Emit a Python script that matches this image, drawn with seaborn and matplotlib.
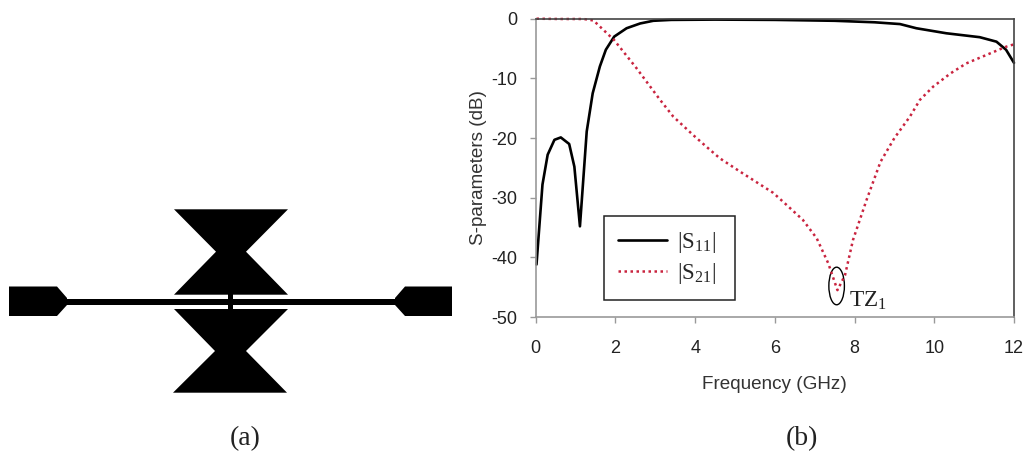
import matplotlib.pyplot as plt
import matplotlib.patches as mpatches
import seaborn as sns
import pandas as pd

# curves
s11_freq = [0.02, 0.17, 0.3, 0.47, 0.63, 0.84, 0.97, 1.11, 1.28, 1.43, 1.61, 1.76, 1.97, 2.28, 2.62, 2.95, 3.4, 4.5, 6.0, 7.5, 8.5, 9.14, 9.55, 10.3, 11.14, 11.56, 11.8, 12.0]
s11_db = [-41.2, -27.8, -22.8, -20.3, -19.9, -21.0, -24.8, -34.8, -18.9, -12.5, -8.0, -5.2, -3.0, -1.6, -0.8, -0.35, -0.2, -0.15, -0.2, -0.35, -0.6, -0.9, -1.6, -2.44, -3.1, -3.85, -5.2, -7.4]
s21_freq = [0.02, 0.6, 1.2, 1.45, 1.97, 2.53, 3.12, 3.45, 3.95, 4.29, 4.62, 5.12, 5.4, 5.96, 6.21, 6.7, 7.05, 7.34, 7.57, 7.76, 7.96, 8.3, 8.65, 9.0, 9.39, 9.64, 9.97, 10.4, 10.8, 11.3, 11.8, 12.0]
s21_db = [0.0, -0.05, -0.05, -0.3, -3.6, -8.3, -13.6, -16.4, -19.5, -21.5, -23.4, -25.6, -26.8, -29.2, -30.7, -33.7, -36.8, -41.0, -45.5, -43.0, -37.1, -30.4, -24.0, -20.0, -16.4, -13.6, -11.4, -9.2, -7.5, -6.1, -4.7, -4.3]
x_ticks = [0, 2, 4, 6, 8, 10, 12]
y_ticks = [0, -10, -20, -30, -40, -50]

# layout of panel (a), in image pixels
pad_left = [(9, 286.5), (57, 286.5), (67, 298), (67, 305), (57, 316), (9, 316)]
pad_right = [(452, 286.5), (405, 286.5), (395, 298), (395, 305), (405, 316), (452, 316)]
feed_line = [(67, 299), (395, 299), (395, 304.5), (67, 304.5)]
stub = [(228.3, 294), (233.3, 294), (233.3, 309.5), (228.3, 309.5)]
bowtie_top = [(174, 209.3), (288, 209.3), (246, 251.7), (288, 294.7), (174, 294.7), (216, 251.7)]
bowtie_bottom = [(174, 309), (288, 309), (246, 351), (287, 392.7), (173, 392.7), (215, 351)]

sns.set_style('white')
plt.rcParams['font.family'] = ['Liberation Sans', 'DejaVu Sans']
plt.rcParams['mathtext.fontset'] = 'custom'
plt.rcParams['mathtext.rm'] = 'Liberation Serif'
plt.rcParams['axes.unicode_minus'] = False

fig = plt.figure(figsize=(10.27, 4.54), dpi=100)

# panel (a) sits on a full figure axes in pixels
bg = fig.add_axes([0, 0, 1, 1])
bg.set_xlim(0, 1027)
bg.set_ylim(454, 0)
bg.axis('off')
for shape in [pad_left, pad_right, feed_line, stub, bowtie_top, bowtie_bottom]:
    bg.add_patch(mpatches.Polygon(shape, closed=True, fc='black', ec='none'))
bg.text(245, 445, '(a)', family='Liberation Serif', fontsize=20, ha='center', va='baseline', color='#222222')
bg.text(801.5, 445, '(b)', family='Liberation Serif', fontsize=20, ha='center', va='baseline', color='#222222')

# panel (b)
ax = fig.add_axes([535.7 / 1027, 1 - 317 / 454, (1014 - 535.7) / 1027, (317 - 18.7) / 454])
ax.patch.set_alpha(0)
df11 = pd.DataFrame({'f': s11_freq, 'db': s11_db})
df21 = pd.DataFrame({'f': s21_freq, 'db': s21_db})
sns.lineplot(data=df11, x='f', y='db', ax=ax, color='black', lw=1.9, sort=False,
             label=r'$\mathrm{|S_{11}|}$', clip_on=False)
sns.lineplot(data=df21, x='f', y='db', ax=ax, color='#c9243f', lw=1.8, ls=(0, (1, 1.4)), sort=False,
             label=r'$\mathrm{|S_{21}|}$', clip_on=False)
ax.set_xlim(0, 12)
ax.set_ylim(-50, 0)
ax.set_xticks(x_ticks)
ax.set_yticks(y_ticks)
ax.set_xlabel('Frequency (GHz)', fontsize=13.6, color='#333333', labelpad=14)
ax.set_ylabel('S-parameters (dB)', fontsize=13.6, color='#333333', labelpad=3)
ax.tick_params(axis='both', length=4.3, width=1, color='#999999', labelsize=13, labelcolor='#222222', left=True, bottom=True)
ax.tick_params(axis='x', pad=12)
ax.tick_params(axis='y', pad=9)
for side in ['left', 'bottom']:
    ax.spines[side].set_color('#999999')
for side in ['top', 'right']:
    ax.spines[side].set_color('#444444')
for side in ax.spines:
    ax.spines[side].set_visible(True)
    ax.spines[side].set_linewidth(1.2)

leg = ax.legend(loc='lower left', bbox_to_anchor=(604 / 1027, 1 - 300 / 454, 131 / 1027, 85 / 454),
                bbox_transform=fig.transFigure, mode='expand', borderaxespad=0, fontsize=16.5,
                frameon=True, fancybox=False, edgecolor='#222222', framealpha=1,
                handlelength=2.15, handletextpad=0.4, borderpad=0.62, labelspacing=0.25)
leg.get_frame().set_linewidth(1.1)

# marker for the transmission zero
ax.add_patch(mpatches.Ellipse((7.55, -44.8), 0.39, 6.3, fc='none', ec='black', lw=1.0))
ax.text(7.86, -48.3, r'$\mathrm{TZ_1}$', fontsize=16.8, color='#222222')

plt.savefig('out.png', dpi=100)
